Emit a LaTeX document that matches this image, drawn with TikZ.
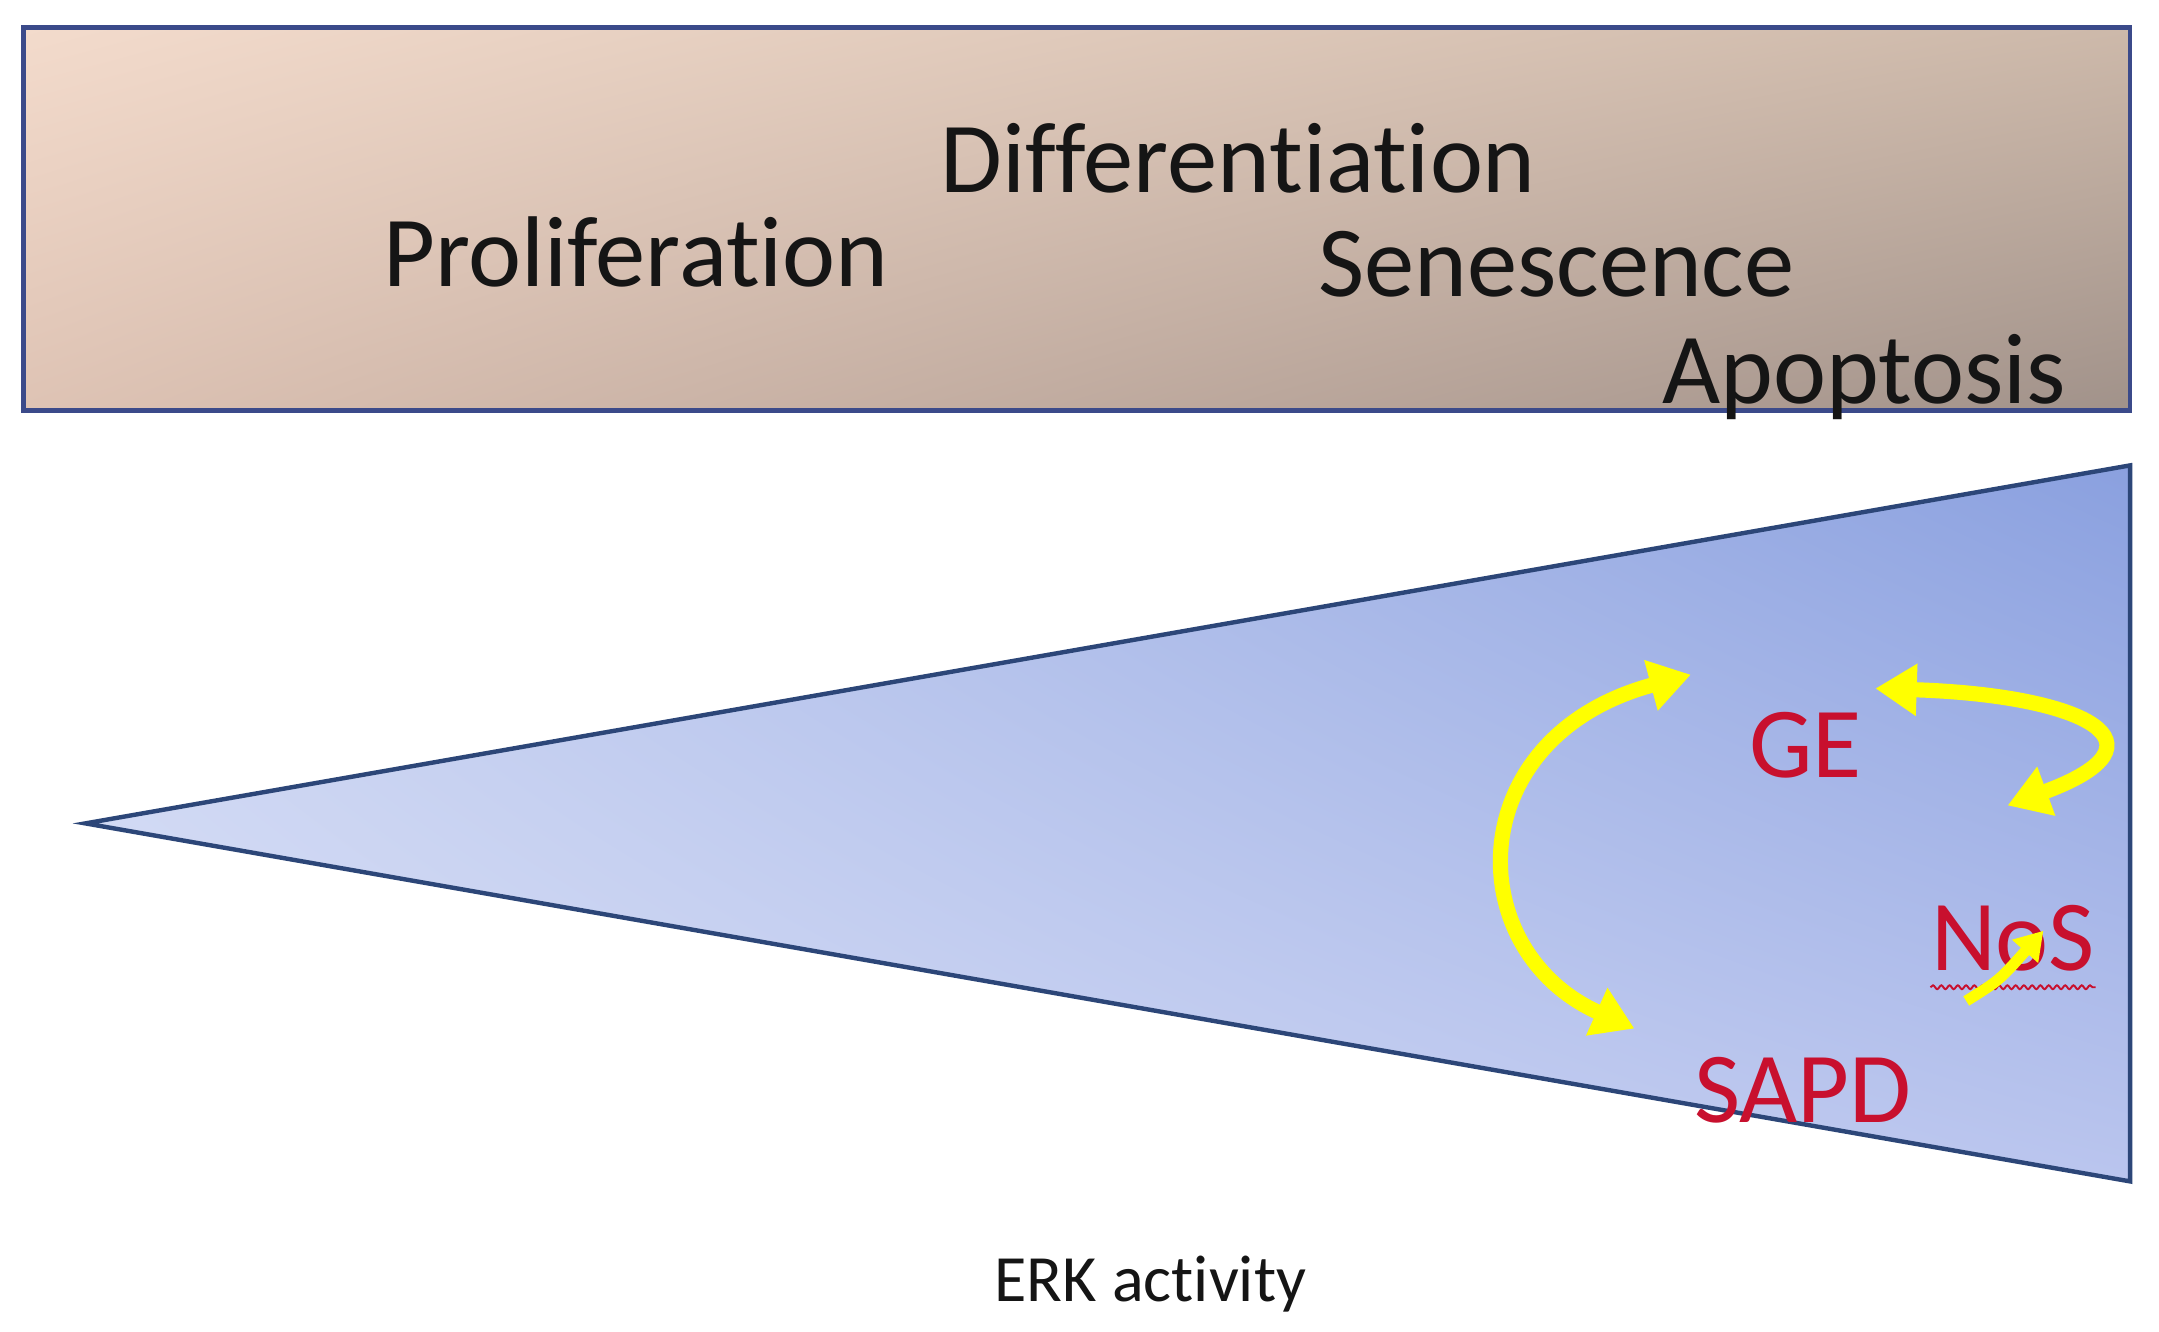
\documentclass[tikz,border=0pt]{standalone}
\usepackage{fontspec}
\setmainfont{Carlito}[RawFeature={-liga;-clig;-dlig;-calt}]
\usetikzlibrary{arrows.meta,decorations.pathmorphing,shadings}
\definecolor{boxedge}{HTML}{3B4A8A}
\definecolor{triedge}{HTML}{2C4678}
\definecolor{txt}{HTML}{151515}
\definecolor{redtxt}{HTML}{C8102E}
\definecolor{arrowyellow}{HTML}{FFFF00}
\definecolor{bUL}{RGB}{243,219,204}
\definecolor{bUR}{RGB}{205,185,170}
\definecolor{bLL}{RGB}{222,195,180}
\definecolor{bLR}{RGB}{161,146,138}
\definecolor{tUL}{RGB}{200,210,241}
\definecolor{tUR}{RGB}{138,160,223}
\definecolor{tLL}{RGB}{220,226,247}
\definecolor{tLR}{RGB}{186,197,238}
\newcommand{\tiNoLig}{t\kern0pt i}
\begin{document}
\begin{tikzpicture}[x=0.5pt,y=-0.5pt,
  lbl/.style={font=\fontsize{36.5}{40}\selectfont, text=txt, inner sep=0pt, anchor=base west},
  redlbl/.style={lbl, text=redtxt},
  axislbl/.style={font=\fontsize{24}{28}\selectfont, text=txt, inner sep=0pt, anchor=base west},
  yarrow/.style={draw=arrowyellow, line width=5.5pt,
    {Triangle[width=18pt,length=15pt]}-{Triangle[width=18pt,length=15pt]}},
  ysmall/.style={draw=arrowyellow, line width=4pt,
    -{Triangle[width=12pt,length=10pt]}},
]
\useasboundingbox (0,0) rectangle (1568,967);
\fill[white] (0,0) rectangle (1568,967);

% top box
\coordinate (bnw) at (17,20);
\coordinate (bse) at (1547,298);
\shade[upper left=bUL, upper right=bUR, lower left=bLL, lower right=bLR] (bnw) rectangle (bse);
\draw[boxedge, line width=1.6pt] (bnw) rectangle (bse);

\node[lbl] (diff) at (683,140) {Differen\tiNoLig a\tiNoLig on};
\node[lbl] (prol) at (278,208) {Prolifera\tiNoLig on};
\node[lbl] (sen)  at (957,215) {Senescence};
\node[lbl] (apo)  at (1207,293) {Apoptosis};

% triangle
\coordinate (apex) at (62,598);
\coordinate (tr) at (1547,338);
\coordinate (br) at (1547,858);
\shade[upper left=tUL, upper right=tUR, lower left=tLL, lower right=tLR] (apex) -- (tr) -- (br) -- cycle;
\draw[triedge, line width=1.6pt, line join=miter] (apex) -- (tr) -- (br) -- cycle;

% labels in triangle
\node[redlbl] (ge)   at (1270,565) {GE};
\node[redlbl] (sapd) at (1230,815) {SAPD};
\node[redlbl] (nos)  at (1402,705) {NoS};
\draw[redtxt, line width=0.7pt, decorate,
      decoration={snake, amplitude=0.7pt, segment length=3pt}]
      ([yshift=-6pt]nos.base west) -- ([yshift=-6pt]nos.base east);

% yellow arrows
\coordinate (la1) at (1228,490);
\coordinate (la2) at (1187,747);
\draw[yarrow] (la1) .. controls (1060,535) and (1060,690) .. (la2);

\coordinate (ra1) at (1362,500);
\coordinate (ra2) at (1458,585);
\draw[yarrow] (ra1) .. controls (1515,505) and (1580,540) .. (ra2);

\coordinate (sa1) at (1428,727);
\coordinate (sa2) at (1484,676);
\draw[ysmall] (sa1) .. controls (1452,712) .. (sa2);

% axis label
\node[axislbl] (erk) at (722,945) {ERK activity};
\end{tikzpicture}
\end{document}
